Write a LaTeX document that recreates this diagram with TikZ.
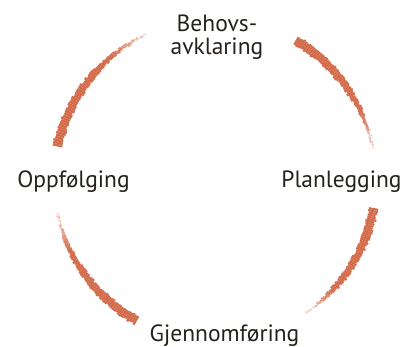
\documentclass[tikz,border=0pt]{standalone}
\usepackage{fontspec}
\setmainfont{PT Sans}
\definecolor{brush}{RGB}{211,108,75}
\definecolor{ink}{RGB}{38,33,28}
\begin{document}
\begin{tikzpicture}[x=1pt,y=1pt,
  lbl/.style={font=\fontsize{23.5}{23}\selectfont, text=ink, inner sep=0pt},
  speck/.style={fill=brush, opacity=0.55}
]
\useasboundingbox (0,0) rectangle (402,347);
\coordinate (c) at (215,167);
\pgfmathsetseed{7}
\foreach \a/\b in {60/11, -10/-56, 241/192, 168/115}{
  \foreach \i in {0,...,59}{
    \pgfmathsetmacro\t{\i/60}
    \pgfmathsetmacro\ta{\a+(\b-\a)*\t}
    \pgfmathsetmacro\tb{\a+(\b-\a)*(\t+1/60)}
    \pgfmathsetmacro\w{max(1.2, 9*(1-\t^2.2)) + 1.2*rand}
    \pgfmathsetmacro\op{\t<0.7 ? 1 : max(0.15,1-(\t-0.7)*2.8)}
    \pgfmathsetmacro\rr{161+0.7*rand}
    \draw[brush, line width=\w pt, opacity=\op, shift={(c)}] (\ta:\rr) arc[start angle=\ta, end angle=\tb, radius=\rr];
  }
  \foreach \k in {1,...,45}{
    \pgfmathsetmacro\t{0.5+0.5*rnd}
    \pgfmathsetmacro\ang{\a+(\b-\a)*\t}
    \pgfmathsetmacro\rr{161+(4*(1-\t)+1.5)*rand}
    \fill[speck, shift={(c)}] (\ang:\rr) circle (0.6);
  }
}
\node[lbl, anchor=base, align=center] (behov) at (217,292) {Behovs-\\avklaring};
\node[lbl, anchor=base] (plan) at (341.5,159) {Planlegging};
\node[lbl, anchor=base] (gjen) at (224.5,5) {Gjennomføring};
\node[lbl, anchor=base] (oppf) at (73.5,159) {Oppfølging};
\end{tikzpicture}
\end{document}
